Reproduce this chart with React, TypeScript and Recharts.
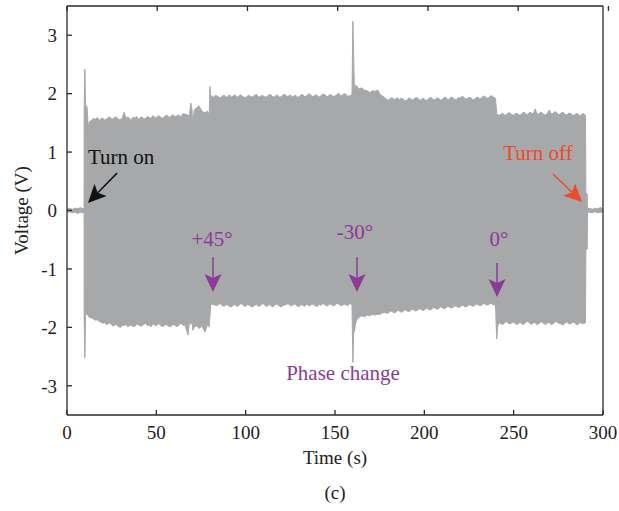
import { AreaChart, Area, XAxis, YAxis, ReferenceLine, ReferenceDot, Label } from "recharts";

// [time (s), upper envelope (V), lower envelope (V)]
const OFF_START: [number, number, number][] = [
  [0, 0.03, -0.03], [1.5, 0.04, -0.02], [3, 0.02, -0.04], [4.5, 0.04, -0.03],
  [6, 0.03, -0.05], [7.5, 0.05, -0.03], [9, 0.03, -0.04], [9.55, 0.03, -0.03],
];

const TURN_ON: [number, number, number][] = [
  [9.6, 1.7, -1.8], [10.0, 2.42, -2.52], [10.4, 1.8, -1.78], [11.2, 1.78, -1.77],
  [11.9, 1.43, -1.8], [12.6, 1.52, -1.83],
];

const STAGE_A: [number, number, number][] = [
  [14, 1.55, -1.84], [15, 1.58, -1.86], [16, 1.56, -1.88], [17, 1.59, -1.87], [18, 1.54, -1.9],
  [19, 1.57, -1.91], [20, 1.58, -1.93], [21, 1.55, -1.92], [22, 1.56, -1.95], [23, 1.59, -1.94],
  [24, 1.6, -1.92], [25, 1.56, -1.96], [26, 1.57, -1.98], [27, 1.6, -1.95], [28, 1.59, -1.96],
  [29, 1.55, -1.99], [30, 1.56, -2.0], [31, 1.59, -1.96], [32, 1.68, -1.97], [33, 1.58, -1.95],
  [34, 1.6, -1.99], [35, 1.57, -1.97], [36, 1.55, -1.96], [37, 1.6, -1.99], [38, 1.58, -1.98],
  [39, 1.61, -1.95], [40, 1.56, -1.95], [41, 1.59, -1.98], [42, 1.6, -1.97], [43, 1.57, -1.95],
  [44, 1.57, -1.93], [45, 1.61, -1.97], [46, 1.59, -1.96], [47, 1.58, -1.99], [48, 1.62, -1.94],
  [49, 1.6, -1.96], [50, 1.58, -1.97], [51, 1.62, -1.94], [52, 1.61, -1.95], [53, 1.58, -1.98],
  [54, 1.59, -1.98], [55, 1.62, -1.95], [56, 1.63, -1.96], [57, 1.6, -1.98], [58, 1.6, -1.99],
  [59, 1.64, -1.96], [60, 1.62, -1.95], [61, 1.6, -1.98], [62, 1.64, -1.98], [63, 1.62, -1.95],
  [64, 1.61, -1.93], [65, 1.66, -1.97], [66, 1.65, -1.96],
  [67.7, 1.63, -2.13], [68.5, 1.62, -1.91], [69.3, 1.84, -1.95], [70.0, 1.72, -1.88],
  [70.4, 1.46, -2.05], [71.2, 1.72, -2.0], [72.5, 1.76, -1.97], [73.9, 1.79, -2.02],
  [75.5, 1.7, -1.98], [77.2, 1.67, -2.08], [78.6, 1.7, -1.96], [79.6, 1.64, -1.99],
  [80.0, 2.12, -1.8], [80.5, 1.96, -1.6],
];

const STAGE_B: [number, number, number][] = [
  [82, 1.94, -1.61], [83, 1.97, -1.62], [84, 1.96, -1.63], [85, 1.94, -1.6], [86, 1.93, -1.6],
  [87, 1.96, -1.63], [88, 1.97, -1.64], [89, 1.94, -1.61], [90, 1.95, -1.62], [91, 1.98, -1.64],
  [92, 1.94, -1.65], [93, 1.96, -1.62], [94, 1.98, -1.61], [95, 1.94, -1.64], [96, 1.95, -1.63],
  [97, 1.98, -1.6], [98, 1.96, -1.6], [99, 1.94, -1.63], [100, 1.93, -1.64], [101, 1.96, -1.61],
  [102, 1.97, -1.62], [103, 1.94, -1.64], [104, 1.95, -1.65], [105, 1.97, -1.62], [106, 1.99, -1.61],
  [107, 1.95, -1.64], [108, 1.94, -1.63], [109, 1.97, -1.6], [110, 1.96, -1.6], [111, 1.94, -1.63],
  [112, 1.95, -1.64], [113, 1.98, -1.61], [114, 1.98, -1.62], [115, 1.95, -1.65], [116, 1.94, -1.63],
  [117, 1.97, -1.6], [118, 1.97, -1.61], [119, 1.94, -1.64], [120, 1.95, -1.65], [121, 1.98, -1.62],
  [122, 1.99, -1.62], [123, 1.95, -1.6], [124, 1.96, -1.6], [125, 1.98, -1.63], [126, 1.94, -1.63],
  [127, 1.96, -1.6], [128, 1.97, -1.61], [129, 1.94, -1.64], [130, 1.95, -1.64], [131, 1.98, -1.61],
  [132, 1.98, -1.62], [133, 1.95, -1.64], [134, 1.96, -1.6], [135, 1.99, -1.62], [136, 1.99, -1.63],
  [137, 1.96, -1.6], [138, 1.95, -1.61], [139, 1.98, -1.63], [140, 1.97, -1.64], [141, 1.94, -1.61],
  [142, 1.96, -1.62], [143, 1.99, -1.6], [144, 1.99, -1.6], [145, 1.96, -1.63], [146, 1.95, -1.63],
  [147, 1.98, -1.6], [148, 1.98, -1.61], [149, 1.95, -1.63], [150, 1.96, -1.62], [151, 1.98, -1.59],
  [152, 2.01, -1.6], [153, 1.96, -1.62], [154, 1.97, -1.63], [155, 2.0, -1.6], [156, 1.99, -1.61],
  [157, 1.96, -1.63], [158, 1.96, -1.6], [159.5, 1.98, -1.6],
];

const PHASE_SPIKE: [number, number, number][] = [
  [160.0, 3.24, -2.6], [160.5, 2.58, -2.05], [160.9, 2.0, -2.07],
];

const STAGE_C: [number, number, number][] = [
  [161.4, 2.14, -1.95], [162.2, 2.13, -1.87], [163.5, 2.08, -1.83], [165, 2.1, -1.8],
  [166.5, 2.06, -1.82], [168, 2.05, -1.79], [169.5, 2.02, -1.8], [171, 2.05, -1.78],
  [172.5, 2.04, -1.79], [174, 2.06, -1.77], [175, 2.0, -1.78], [176, 1.97, -1.76], [177, 1.95, -1.75],
  [178, 1.93, -1.74], [179, 1.9, -1.76], [180, 1.89, -1.75], [181, 1.92, -1.72], [182, 1.93, -1.73],
  [183, 1.9, -1.75], [184, 1.91, -1.74], [185, 1.93, -1.71], [186, 1.89, -1.72], [187, 1.92, -1.74],
  [188, 1.91, -1.73], [189, 1.88, -1.7], [190, 1.88, -1.71], [191, 1.92, -1.73], [192, 1.92, -1.72],
  [193, 1.89, -1.69], [194, 1.9, -1.7], [195, 1.93, -1.72], [196, 1.93, -1.71], [197, 1.9, -1.68],
  [198, 1.89, -1.69], [199, 1.92, -1.71], [200, 1.91, -1.7], [201, 1.88, -1.67], [202, 1.9, -1.68],
  [203, 1.93, -1.7], [204, 1.93, -1.69], [205, 1.9, -1.66], [206, 1.89, -1.67], [207, 1.93, -1.69],
  [208, 1.92, -1.68], [209, 1.89, -1.65], [210, 1.9, -1.66], [211, 1.93, -1.68], [212, 1.94, -1.67],
  [213, 1.9, -1.64], [214, 1.91, -1.65], [215, 1.94, -1.67], [216, 1.93, -1.66], [217, 1.9, -1.63],
  [218, 1.9, -1.64], [219, 1.93, -1.66], [220, 1.92, -1.65], [221, 1.95, -1.62], [222, 1.94, -1.63],
  [223, 1.91, -1.65], [224, 1.91, -1.64], [225, 1.94, -1.61], [226, 1.93, -1.62], [227, 1.9, -1.64],
  [228, 1.9, -1.63], [229, 1.93, -1.6], [230, 1.94, -1.61], [231, 1.91, -1.63], [232, 1.92, -1.62],
  [233, 1.96, -1.59], [234, 1.95, -1.6], [235, 1.92, -1.62], [236, 1.93, -1.61], [237, 1.96, -1.59],
  [238, 1.96, -1.6], [239, 1.93, -1.62], [239.8, 1.92, -1.61],
  [240.5, 1.66, -2.2], [241.0, 1.64, -1.98],
];

const STAGE_D: [number, number, number][] = [
  [242, 1.63, -1.92], [243, 1.65, -1.94], [244, 1.66, -1.95], [245, 1.63, -1.92], [246, 1.64, -1.9],
  [247, 1.67, -1.93], [248, 1.67, -1.94], [249, 1.64, -1.92], [250, 1.63, -1.91], [251, 1.66, -1.94],
  [252, 1.66, -1.95], [253, 1.63, -1.92], [254, 1.64, -1.92], [255, 1.67, -1.95], [256, 1.68, -1.94],
  [257, 1.64, -1.91], [258, 1.65, -1.9], [259, 1.68, -1.93], [260, 1.67, -1.95], [261, 1.65, -1.92],
  [262, 1.74, -1.92], [263, 1.66, -1.95], [264, 1.65, -1.94], [265, 1.68, -1.91], [266, 1.67, -1.91],
  [267, 1.64, -1.94], [268, 1.64, -1.95], [269, 1.67, -1.92], [270, 1.72, -1.92], [271, 1.65, -1.95],
  [272, 1.66, -1.94], [273, 1.69, -1.91], [274, 1.68, -1.9], [275, 1.64, -1.93], [276, 1.65, -1.93],
  [277, 1.68, -1.96], [278, 1.67, -1.95], [279, 1.64, -1.92], [280, 1.64, -1.91], [281, 1.67, -1.94],
  [282, 1.66, -1.94], [283, 1.63, -1.91], [284, 1.63, -1.92], [285, 1.66, -1.95], [286, 1.65, -1.95],
  [287, 1.62, -1.92], [288, 1.64, -1.93], [289, 1.66, -1.94], [290.2, 1.63, -1.92],
];

const OFF_END: [number, number, number][] = [
  [290.4, 0.3, -0.68], [291.2, 0.28, -0.66], [291.3, 0.03, -0.03], [292.5, 0.04, -0.03],
  [294, 0.02, -0.04], [295.5, 0.04, -0.02], [297, 0.03, -0.04], [298.5, 0.05, -0.03],
  [300, 0.03, -0.03],
];

const X_TICKS = [0, 50, 100, 150, 200, 250, 300];
const Y_TICKS = [-3, -2, -1, 0, 1, 2, 3];

const BLACK = "#111111";
const RED = "#ee4a2b";
const PURPLE = "#8a3b97";
const GRAY = "#a7a8aa";
const AXIS = "#2a2a2a";
const FONT = "'Liberation Serif', 'Times New Roman', serif";

// arrows: [t, v] from -> to
const ARROWS = [
  { from: [28.0, 0.64], to: [11.75, 0.13], color: BLACK },
  { from: [272.0, 0.625], to: [288.3, 0.145], color: RED },
  { from: [81.7, -0.8], to: [81.7, -1.395], color: PURPLE },
  { from: [162.3, -0.8], to: [162.3, -1.395], color: PURPLE },
  { from: [240.7, -0.9], to: [240.7, -1.48], color: PURPLE },
];

const NOTES = [
  { t: 11.75, v: 0.796, text: "Turn on", color: BLACK, anchor: "start" },
  { t: 263.6, v: 0.864, text: "Turn off", color: RED, anchor: "middle" },
  { t: 81.2, v: -0.608, text: "+45°", color: PURPLE, anchor: "middle" },
  { t: 161.2, v: -0.488, text: "-30°", color: PURPLE, anchor: "middle" },
  { t: 241.8, v: -0.608, text: "0°", color: PURPLE, anchor: "middle" },
  { t: 154.5, v: -2.9, text: "Phase change", color: PURPLE, anchor: "middle" },
];

const signal = [...OFF_START, ...TURN_ON, ...STAGE_A, ...STAGE_B, ...PHASE_SPIKE, ...STAGE_C, ...STAGE_D, ...OFF_END].map(
  ([t, hi, lo]) => ({ t, range: [lo, hi] })
);

function arrowShape(color: string) {
  return (p: any) => {
    const { x1, y1, x2, y2 } = p;
    const dx = x2 - x1;
    const dy = y2 - y1;
    const len = Math.hypot(dx, dy) || 1;
    const ux = dx / len;
    const uy = dy / len;
    const head = 18;
    const half = 8.5;
    const bx = x2 - ux * head;
    const by = y2 - uy * head;
    const nx = x2 - ux * head * 0.78;
    const ny = y2 - uy * head * 0.78;
    const px = -uy;
    const py = ux;
    return (
      <g>
        <line x1={x1} y1={y1} x2={nx} y2={ny} stroke={color} strokeWidth={1.5} />
        <polygon
          points={`${x2},${y2} ${bx + px * half},${by + py * half} ${nx},${ny} ${bx - px * half},${by - py * half}`}
          fill={color}
        />
      </g>
    );
  };
}

function noteShape(text: string, color: string, anchor: string) {
  return (p: any) => (
    <text x={p.cx} y={p.cy} fill={color} fontSize={21} fontFamily={FONT} textAnchor={anchor}>
      {text}
    </text>
  );
}

// mirror axes: tick marks only, no labels
const NoLabel = () => <g />;

const tickStyle = { fill: "#222", fontSize: 19, fontFamily: FONT };

export default function App() {
  return (
    <div style={{ width: 619, height: 511, background: "#fff" }}>
      <style>{"body{margin:0}"}</style>
      <AreaChart width={619} height={511} data={signal} margin={{ top: 5, right: 15, bottom: 0, left: 0 }}>
        <XAxis
          dataKey="t"
          type="number"
          domain={[0, 300]}
          ticks={X_TICKS}
          interval={0}
          height={96}
          tickSize={-5}
          tickMargin={16}
          tick={tickStyle}
          stroke={AXIS}
          strokeWidth={1.3}
        >
          <Label value="Time (s)" position="insideTop" offset={36} fill="#222" fontSize={19} fontFamily={FONT} />
          <Label value="(c)" position="insideTop" offset={71} fill="#222" fontSize={19} fontFamily={FONT} />
        </XAxis>
        <XAxis
          xAxisId="top"
          orientation="top"
          type="number"
          domain={[0, 300]}
          ticks={X_TICKS}
          interval={0}
          height={1}
          tick={<NoLabel />}
          tickSize={-5}
          stroke={AXIS}
          strokeWidth={1.3}
        />
        <YAxis
          type="number"
          domain={[-3.5, 3.5]}
          ticks={Y_TICKS}
          interval={0}
          allowDataOverflow
          width={67}
          tickSize={-5}
          tickMargin={15}
          tick={tickStyle}
          stroke={AXIS}
          strokeWidth={1.3}
        >
          <Label
            value="Voltage (V)"
            angle={-90}
            position="insideLeft"
            offset={21}
            fill="#222"
            fontSize={19}
            fontFamily={FONT}
            style={{ textAnchor: "middle" }}
          />
        </YAxis>
        <YAxis
          yAxisId="right"
          orientation="right"
          type="number"
          domain={[-3.5, 3.5]}
          ticks={Y_TICKS}
          interval={0}
          width={1}
          tick={<NoLabel />}
          tickSize={-5}
          stroke={AXIS}
          strokeWidth={1.3}
        />
        <Area
          type="linear"
          dataKey="range"
          stroke={GRAY}
          strokeWidth={1}
          fill={GRAY}
          fillOpacity={1}
          isAnimationActive={false}
          dot={false}
          activeDot={false}
        />
        {ARROWS.map((a, i) => (
          <ReferenceLine
            key={`arrow-${i}`}
            segment={[
              { x: a.from[0], y: a.from[1] },
              { x: a.to[0], y: a.to[1] },
            ]}
            shape={arrowShape(a.color)}
          />
        ))}
        {NOTES.map((n, i) => (
          <ReferenceDot
            key={`note-${i}`}
            x={n.t}
            y={n.v}
            r={0}
            shape={noteShape(n.text, n.color, n.anchor)}
          />
        ))}
      </AreaChart>
    </div>
  );
}
